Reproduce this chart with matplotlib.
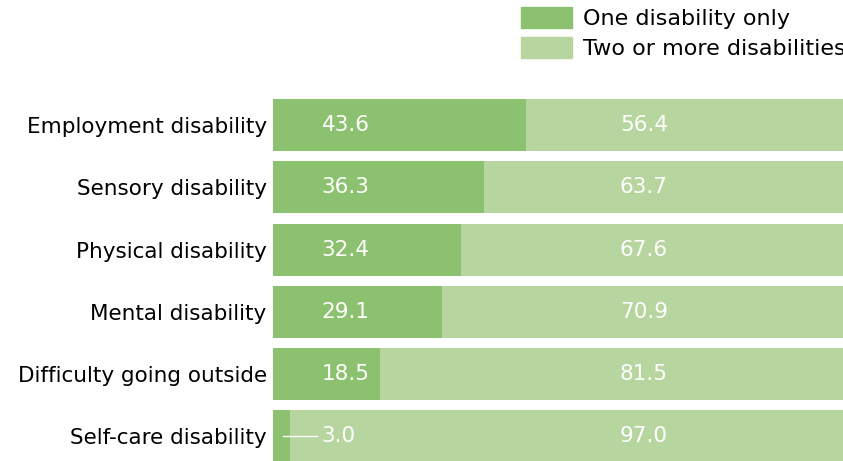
import matplotlib
matplotlib.use('Agg')
import matplotlib.pyplot as plt
from matplotlib.patches import Patch

categories = ['Employment disability', 'Sensory disability', 'Physical disability',
              'Mental disability', 'Difficulty going outside', 'Self-care disability']
one_only = [43.6, 36.3, 32.4, 29.1, 18.5, 3.0]
two_more = [56.4, 63.7, 67.6, 70.9, 81.5, 97.0]
legend_labels = ['One disability only', 'Two or more disabilities']

dark = '#8cc170'
light = '#b7d59f'

plt.rcParams['font.family'] = ['DejaVu Sans']

W, H = 843, 461
fig = plt.figure(figsize=(W / 100, H / 100), dpi=100)
# axes runs off the right and bottom edges, like the original
x0, x1 = 273, 853
top, bot = 93.8, 467.5
ax = fig.add_axes([x0 / W, (H - bot) / H, (x1 - x0) / W, (bot - top) / H])

n = len(categories)
ys = list(range(n))
ax.barh(ys, one_only, height=0.835, color=dark)
ax.barh(ys, two_more, left=one_only, height=0.835, color=light)
ax.set_xlim(0, 100)
ax.set_ylim(n - 0.5, -0.5)

fs = 15.5
for i, (a, b) in enumerate(zip(one_only, two_more)):
    ax.text(8.4, i, f'{a:.1f}', color='white', fontsize=fs, va='center', ha='left')
    ax.text(59.8, i, f'{b:.1f}', color='white', fontsize=fs, va='center', ha='left')
    if a < 5:
        ax.plot([1.7, 7.6], [i, i], color='white', lw=1)

ax.set_yticks(ys)
ax.set_yticklabels(categories, fontsize=fs)
ax.tick_params(axis='y', length=0, pad=4.5)
ax.set_xticks([])
for s in ax.spines.values():
    s.set_visible(False)

handles = [Patch(color=dark), Patch(color=light)]
fig.legend(handles, legend_labels, loc='upper left', bbox_to_anchor=(512 / W, 1.005),
           frameon=False, fontsize=16, handlelength=2.3, handleheight=1.1,
           labelspacing=0.35, handletextpad=0.5, borderaxespad=0)

fig.savefig('out.png', dpi=100)
